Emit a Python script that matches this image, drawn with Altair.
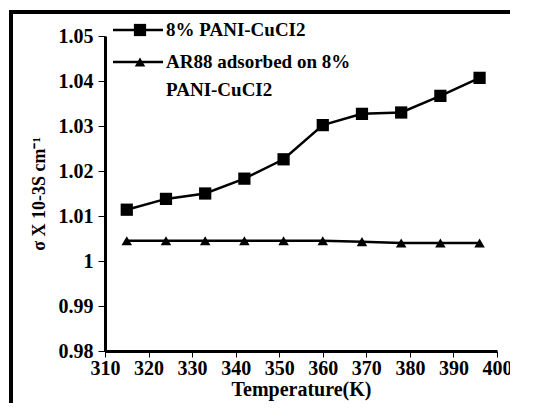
import altair as alt
import pandas as pd

temps = [315, 324, 333, 342, 351, 360, 369, 378, 387, 396]
pani = [1.0114, 1.0138, 1.0150, 1.0183, 1.0226, 1.0302, 1.0327, 1.0330, 1.0367, 1.0407]
ar88 = [1.0045, 1.0045, 1.0045, 1.0045, 1.0045, 1.0045, 1.0043, 1.0040, 1.0040, 1.0040]
series = ["8% PANI-CuCI2", "AR88 adsorbed on 8% PANI-CuCI2"]
x_ticks = [310, 320, 330, 340, 350, 360, 370, 380, 390, 400]
y_ticks = [0.98, 0.99, 1.0, 1.01, 1.02, 1.03, 1.04, 1.05]

df = pd.DataFrame({
    "T": temps * 2,
    "sigma": pani + ar88,
    "series": [series[0]] * len(temps) + [series[1]] * len(temps),
})

FONT = "Liberation Serif"

xs = alt.Scale(domain=[310, 400], nice=False, zero=False)
ys = alt.Scale(domain=[0.98, 1.05], nice=False, zero=False)

xenc = alt.X("T:Q", scale=xs, axis=alt.Axis(
    title="Temperature(K)", values=x_ticks, grid=False, domainWidth=3, domainColor="black",
    tickColor="black", tickSize=6, tickWidth=1, labelFont=FONT, labelFontSize=20,
    labelFontWeight="bold", labelColor="black", labelPadding=1, titleFont=FONT,
    titleFontSize=20, titleFontWeight="bold", titleColor="black", titlePadding=1,
    labelFlush=False))
yenc = alt.Y("sigma:Q", scale=ys, axis=alt.Axis(
    title="σ X 10-3S cm⁻¹", values=y_ticks, format="~g", grid=False, domainWidth=3,
    domainColor="black", tickColor="black", tickSize=7, tickWidth=1, labelFont=FONT,
    labelFontSize=20, labelFontWeight="bold", labelColor="black", labelPadding=5,
    titleFont=FONT, titleFontSize=18, titleFontWeight="bold", titleColor="black",
    titlePadding=10, labelFlush=False))

base = alt.Chart(df)
line = base.mark_line(color="black", strokeWidth=2.5).encode(
    x=xenc, y=yenc, detail="series:N")
sq = base.transform_filter(alt.datum.series == series[0]).mark_point(
    shape="square", filled=True, color="black", size=150, opacity=1).encode(x="T:Q", y="sigma:Q")
tri = base.transform_filter(alt.datum.series == series[1]).mark_point(
    shape="triangle-up", filled=True, color="black", size=110, opacity=1).encode(x="T:Q", y="sigma:Q")

one = alt.Chart(pd.DataFrame({"s": [series[0]]}))
two = alt.Chart(pd.DataFrame({"s": [series[1]]}))

txt_style = dict(font=FONT, fontSize=19, fontWeight="bold", color="black",
                 align="left", baseline="middle")

leg1_line = one.mark_rule(color="black", strokeWidth=2.5).encode(
    x=alt.value(8), x2=alt.value(58), y=alt.value(-6))
leg1_pt = one.mark_point(shape="square", filled=True, color="black", size=150, opacity=1).encode(
    x=alt.value(35), y=alt.value(-6))
leg1_txt = one.mark_text(**txt_style).encode(
    x=alt.value(61), y=alt.value(-6), text="s:N")
leg2_line = two.mark_rule(color="black", strokeWidth=2.5).encode(
    x=alt.value(8), x2=alt.value(58), y=alt.value(26))
leg2_pt = two.mark_point(shape="triangle-up", filled=True, color="black", size=110, opacity=1).encode(
    x=alt.value(35), y=alt.value(26))
leg2_txt1 = two.mark_text(**txt_style).encode(
    x=alt.value(61), y=alt.value(26), text=alt.value("AR88 adsorbed on 8%"))
leg2_txt2 = two.mark_text(**txt_style).encode(
    x=alt.value(61), y=alt.value(54), text=alt.value("PANI-CuCI2"))

frame_left = one.mark_rule(color="black", strokeWidth=4).encode(
    x=alt.value(-94), y=alt.value(-26), y2=alt.value(367))
frame_top = one.mark_rule(color="black", strokeWidth=4).encode(
    x=alt.value(-96), x2=alt.value(405), y=alt.value(-24))

chart = alt.layer(
    frame_left, frame_top, line, sq, tri, leg1_line, leg1_pt, leg1_txt,
    leg2_line, leg2_pt, leg2_txt1, leg2_txt2
).properties(
    width=392, height=315,
    autosize=alt.AutoSizeParams(type="none"),
    padding={"left": 97, "top": 28, "right": 13, "bottom": 52},
).configure(font=FONT).configure_view(stroke=None)

chart.save("out.html", embed_options={"renderer": "svg", "actions": False})
